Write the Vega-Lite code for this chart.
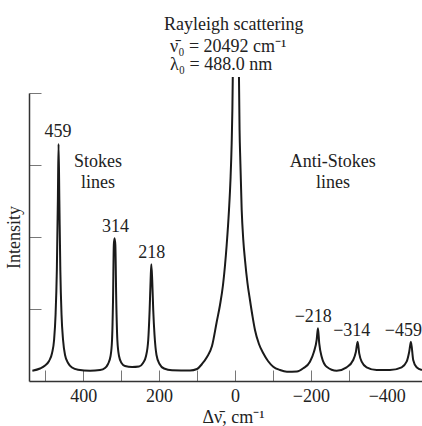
{
  "$schema": "https://vega.github.io/schema/vega-lite/v6.json",
  "width": 393,
  "height": 288,
  "autosize": "none",
  "padding": {"left": 29, "top": 93, "right": 0, "bottom": 45},
  "background": "white",
  "config": {"view": {"stroke": null}, "font": "Liberation Serif"},
  "datasets": {
    "curve": [
      {"seg": "a", "shift": 534.1, "intensity": 10.3},
      {"seg": "a", "shift": 513.8, "intensity": 12.5},
      {"seg": "a", "shift": 500.7, "intensity": 15.5},
      {"seg": "a", "shift": 490.1, "intensity": 20},
      {"seg": "a", "shift": 482.2, "intensity": 28},
      {"seg": "a", "shift": 476.9, "intensity": 41},
      {"seg": "a", "shift": 473.0, "intensity": 66},
      {"seg": "a", "shift": 469.6, "intensity": 111},
      {"seg": "a", "shift": 466.9, "intensity": 181},
      {"seg": "a", "shift": 465.1, "intensity": 237},
      {"seg": "a", "shift": 463.0, "intensity": 181},
      {"seg": "a", "shift": 460.4, "intensity": 111},
      {"seg": "a", "shift": 457.2, "intensity": 66},
      {"seg": "a", "shift": 453.2, "intensity": 41},
      {"seg": "a", "shift": 448.0, "intensity": 26},
      {"seg": "a", "shift": 440.0, "intensity": 18},
      {"seg": "a", "shift": 429.5, "intensity": 13.5},
      {"seg": "a", "shift": 413.7, "intensity": 11.2},
      {"seg": "a", "shift": 382.0, "intensity": 10.3},
      {"seg": "a", "shift": 355.7, "intensity": 11},
      {"seg": "a", "shift": 342.6, "intensity": 13},
      {"seg": "a", "shift": 334.7, "intensity": 17},
      {"seg": "a", "shift": 328.0, "intensity": 25},
      {"seg": "a", "shift": 324.1, "intensity": 41},
      {"seg": "a", "shift": 321.5, "intensity": 81},
      {"seg": "a", "shift": 319.4, "intensity": 136},
      {"seg": "a", "shift": 317.5, "intensity": 142.7},
      {"seg": "a", "shift": 315.4, "intensity": 136},
      {"seg": "a", "shift": 313.0, "intensity": 81},
      {"seg": "a", "shift": 310.1, "intensity": 41},
      {"seg": "a", "shift": 305.7, "intensity": 25},
      {"seg": "a", "shift": 299.1, "intensity": 18},
      {"seg": "a", "shift": 289.9, "intensity": 15},
      {"seg": "a", "shift": 271.4, "intensity": 14},
      {"seg": "a", "shift": 253.0, "intensity": 14.5},
      {"seg": "a", "shift": 242.4, "intensity": 18},
      {"seg": "a", "shift": 234.5, "intensity": 25},
      {"seg": "a", "shift": 228.7, "intensity": 41},
      {"seg": "a", "shift": 225.0, "intensity": 71},
      {"seg": "a", "shift": 222.4, "intensity": 101},
      {"seg": "a", "shift": 220.6, "intensity": 116.7},
      {"seg": "a", "shift": 218.2, "intensity": 101},
      {"seg": "a", "shift": 215.5, "intensity": 71},
      {"seg": "a", "shift": 212.1, "intensity": 46},
      {"seg": "a", "shift": 206.9, "intensity": 26},
      {"seg": "a", "shift": 198.9, "intensity": 17},
      {"seg": "a", "shift": 187.1, "intensity": 12.5},
      {"seg": "a", "shift": 166.0, "intensity": 10.7},
      {"seg": "a", "shift": 118.6, "intensity": 10.5},
      {"seg": "a", "shift": 100.1, "intensity": 12},
      {"seg": "a", "shift": 87.0, "intensity": 17},
      {"seg": "a", "shift": 73.8, "intensity": 24},
      {"seg": "a", "shift": 60.6, "intensity": 35},
      {"seg": "a", "shift": 48.2, "intensity": 59},
      {"seg": "a", "shift": 39.5, "intensity": 76},
      {"seg": "a", "shift": 31.6, "intensity": 96},
      {"seg": "a", "shift": 21.9, "intensity": 136},
      {"seg": "a", "shift": 15.8, "intensity": 171},
      {"seg": "a", "shift": 11.9, "intensity": 201},
      {"seg": "a", "shift": 8.7, "intensity": 238},
      {"seg": "a", "shift": 6.9, "intensity": 271},
      {"seg": "a", "shift": 5.8, "intensity": 304},
      {"seg": "b", "shift": -10.5, "intensity": 304},
      {"seg": "b", "shift": -12.1, "intensity": 251},
      {"seg": "b", "shift": -14.0, "intensity": 221},
      {"seg": "b", "shift": -17.7, "intensity": 171},
      {"seg": "b", "shift": -21.9, "intensity": 141},
      {"seg": "b", "shift": -26.4, "intensity": 121},
      {"seg": "b", "shift": -32.9, "intensity": 98},
      {"seg": "b", "shift": -39.5, "intensity": 81},
      {"seg": "b", "shift": -46.1, "intensity": 65},
      {"seg": "b", "shift": -52.7, "intensity": 51},
      {"seg": "b", "shift": -63.2, "intensity": 37},
      {"seg": "b", "shift": -74.6, "intensity": 27.7},
      {"seg": "b", "shift": -87.0, "intensity": 20},
      {"seg": "b", "shift": -100.9, "intensity": 14.3},
      {"seg": "b", "shift": -118.6, "intensity": 11},
      {"seg": "b", "shift": -137.0, "intensity": 9.3},
      {"seg": "b", "shift": -163.4, "intensity": 9.5},
      {"seg": "b", "shift": -180.0, "intensity": 12.7},
      {"seg": "b", "shift": -197.6, "intensity": 19.3},
      {"seg": "b", "shift": -208.2, "intensity": 29.3},
      {"seg": "b", "shift": -215.3, "intensity": 41},
      {"seg": "b", "shift": -218.7, "intensity": 52.7},
      {"seg": "b", "shift": -222.1, "intensity": 37.7},
      {"seg": "b", "shift": -228.5, "intensity": 24.3},
      {"seg": "b", "shift": -241.6, "intensity": 14.3},
      {"seg": "b", "shift": -268.0, "intensity": 10.3},
      {"seg": "b", "shift": -294.3, "intensity": 13.7},
      {"seg": "b", "shift": -311.7, "intensity": 21},
      {"seg": "b", "shift": -318.8, "intensity": 29.3},
      {"seg": "b", "shift": -323.3, "intensity": 39.3},
      {"seg": "b", "shift": -327.5, "intensity": 27.7},
      {"seg": "b", "shift": -333.9, "intensity": 19.3},
      {"seg": "b", "shift": -347.0, "intensity": 13.7},
      {"seg": "b", "shift": -373.4, "intensity": 11},
      {"seg": "b", "shift": -408.4, "intensity": 11},
      {"seg": "b", "shift": -439.3, "intensity": 13.7},
      {"seg": "b", "shift": -452.4, "intensity": 19.3},
      {"seg": "b", "shift": -459.3, "intensity": 29.3},
      {"seg": "b", "shift": -463.8, "intensity": 39.3},
      {"seg": "b", "shift": -469.8, "intensity": 21},
      {"seg": "b", "shift": -478.8, "intensity": 13.7},
      {"seg": "b", "shift": -492.8, "intensity": 11}
    ],
    "notes": [
      {"shift": 3.4, "intensity": 351, "text": "Rayleigh scattering"},
      {"shift": 466.4, "intensity": 244.3, "text": "459"},
      {"shift": 361, "intensity": 214.3, "text": "Stokes"},
      {"shift": 361, "intensity": 192.7, "text": "lines"},
      {"shift": -257.8, "intensity": 214.3, "text": "Anti-Stokes"},
      {"shift": -258.2, "intensity": 192.7, "text": "lines"},
      {"shift": 314.9, "intensity": 149.3, "text": "314"},
      {"shift": 219.5, "intensity": 122.7, "text": "218"},
      {"shift": -206.3, "intensity": 59.3, "text": "−218"},
      {"shift": -307.8, "intensity": 45.3, "text": "−314"},
      {"shift": -444, "intensity": 45.3, "text": "−459"}
    ],
    "header": [
      {"shift": 171.3, "intensity": 329.5, "text": "ν̄₀ = 20492 cm⁻¹"},
      {"shift": 171.3, "intensity": 311, "text": "λ₀ = 488.0 nm"}
    ]
  },
  "layer": [
    {
      "data": {"name": "curve"},
      "mark": {"type": "line", "interpolate": "monotone", "color": "#1a1a1a", "strokeWidth": 2},
      "encoding": {
        "x": {
          "field": "shift", "type": "quantitative",
          "scale": {"domain": [-493, 543], "reverse": true, "nice": false, "zero": false},
          "axis": {
            "values": [500, 400, 300, 200, 100, 0, -100, -200, -300, -400],
            "labelExpr": "datum.value % 200 === 0 ? datum.label : ''",
            "tickSize": -11,
            "tickColor": "#777",
            "tickOpacity": {"condition": {"test": "datum.value == -400", "value": 0}, "value": 1},
            "domainColor": "#333",
            "domainWidth": 1.5,
            "grid": false,
            "labelFont": "Liberation Serif",
            "labelFontSize": 18,
            "labelColor": "#222",
            "labelPadding": 17,
            "labelFlush": false,
            "labelOverlap": false,
            "title": "Δν̄, cm⁻¹",
            "titleFont": "Liberation Serif",
            "titleFontSize": 18,
            "titleFontWeight": "normal",
            "titleColor": "#222",
            "titleX": 204,
            "titleY": 41,
            "titleAlign": "center",
            "titleBaseline": "alphabetic"
          }
        },
        "y": {
          "field": "intensity", "type": "quantitative",
          "scale": {"domain": [0, 288], "nice": false},
          "axis": {
            "values": [72, 144, 216, 288],
            "labels": false,
            "tickSize": -12,
            "tickColor": "#777",
            "domainColor": "#333",
            "domainWidth": 1.5,
            "grid": false,
            "title": "Intensity",
            "titleFont": "Liberation Serif",
            "titleFontSize": 18,
            "titleFontWeight": "normal",
            "titleColor": "#222",
            "titleAngle": -90,
            "titleX": -15,
            "titleY": 144,
            "titleAlign": "center",
            "titleBaseline": "middle"
          }
        },
        "detail": {"field": "seg", "type": "nominal"}
      }
    },
    {
      "data": {"name": "notes"},
      "mark": {"type": "text", "font": "Liberation Serif", "fontSize": 18, "color": "#222", "align": "center", "baseline": "alphabetic"},
      "encoding": {
        "x": {"field": "shift", "type": "quantitative"},
        "y": {"field": "intensity", "type": "quantitative"},
        "text": {"field": "text", "type": "nominal"}
      }
    },
    {
      "data": {"name": "header"},
      "mark": {"type": "text", "font": "Liberation Serif", "fontSize": 18, "color": "#222", "align": "left", "baseline": "alphabetic"},
      "encoding": {
        "x": {"field": "shift", "type": "quantitative"},
        "y": {"field": "intensity", "type": "quantitative"},
        "text": {"field": "text", "type": "nominal"}
      }
    }
  ]
}
